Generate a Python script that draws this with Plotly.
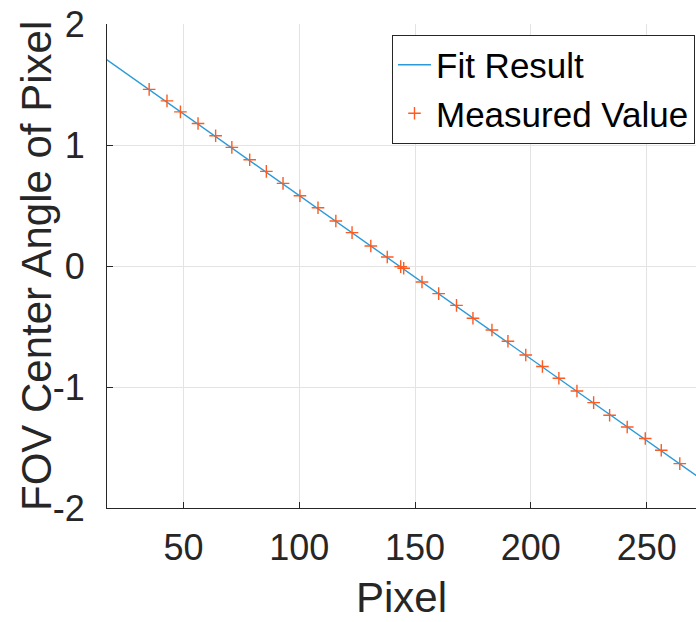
import plotly.graph_objects as go

# Measured values (pixel index, FOV center angle)
pixel = [35.2, 42.9, 48.7, 56.3, 63.9, 70.9, 78.6, 85.8, 93.0, 100.3, 108.1,
         115.8, 122.8, 130.9, 138.0, 143.8, 145.1, 153.0, 160.2, 167.9, 175.0,
         183.2, 190.1, 197.8, 205.0, 212.1, 219.9, 227.1, 234.0, 241.6, 249.4,
         256.3, 264.3]
angle = [1.460, 1.365, 1.274, 1.178, 1.076, 0.980, 0.878, 0.782, 0.683, 0.580,
         0.481, 0.372, 0.276, 0.165, 0.074, -0.005, -0.019, -0.132, -0.228,
         -0.325, -0.432, -0.529, -0.622, -0.736, -0.831, -0.928, -1.033,
         -1.129, -1.234, -1.331, -1.426, -1.523, -1.633]

# Fit result line end points
fit_x = [15, 275]
fit_y = [1.73, -1.78]

x_ticks = [50, 100, 150, 200, 250]
x_tick_labels = ["50", "100", "150", "200", "250"]
y_ticks = [-2, -1, 0, 1, 2]
y_tick_labels = ["-2", "-1", "0", "1", "2"]

FONT = "Liberation Sans, Arial, Helvetica, sans-serif"
AX = "#262626"
GRID = "#E3E3E3"

fig = go.Figure()
fig.add_trace(go.Scatter(
    x=fit_x, y=fit_y, mode="lines", name="Fit Result",
    line=dict(color="#2B9AD8", width=1.4),
))
fig.add_trace(go.Scatter(
    x=pixel, y=angle, mode="markers", name="Measured Value",
    marker=dict(symbol="cross-thin", size=9,
                line=dict(color="#FF5A1F", width=1.4)),
))

fig.update_layout(
    width=696, height=622,
    margin=dict(l=107, r=0, t=24, b=114),
    paper_bgcolor="white", plot_bgcolor="white",
    font=dict(family=FONT, color=AX),
    showlegend=True,
    legend=dict(
        x=(695 - 107) / 589, xanchor="right",
        y=(508.3 - 35) / 483.8, yanchor="top",
        bgcolor="white", bordercolor=AX, borderwidth=1,
        font=dict(size=35, family=FONT, color="black"),
        itemwidth=33, tracegroupgap=0,
    ),
    xaxis=dict(
        range=[17.0, 271.3], tickvals=x_ticks, ticktext=x_tick_labels,
        ticks="inside", ticklen=6, tickcolor=AX,
        showline=True, linecolor=AX, linewidth=1, mirror=False,
        showgrid=True, gridcolor=GRID, gridwidth=1, zeroline=False,
        tickfont=dict(size=36, family=FONT, color=AX),
        ticklabelstandoff=8,
    ),
    yaxis=dict(
        range=[-2, 2], tickvals=y_ticks, ticktext=y_tick_labels,
        ticks="inside", ticklen=6, tickcolor=AX,
        showline=True, linecolor=AX, linewidth=1, mirror=False,
        showgrid=True, gridcolor=GRID, gridwidth=1, zeroline=False,
        tickfont=dict(size=36, family=FONT, color=AX),
        ticklabelstandoff=14,
    ),
    annotations=[
        dict(text="Pixel", xref="paper", yref="paper",
             x=0.5, y=(508.3 - 598) / 483.8, xanchor="center", yanchor="middle",
             showarrow=False, font=dict(size=42, family=FONT, color=AX)),
        dict(text="FOV Center Angle of Pixel", xref="paper", yref="paper",
             x=(36 - 107) / 589, y=0.5, xanchor="center", yanchor="middle",
             textangle=-90, showarrow=False,
             font=dict(size=42, family=FONT, color=AX)),
    ],
)

fig.write_html("out.html")
